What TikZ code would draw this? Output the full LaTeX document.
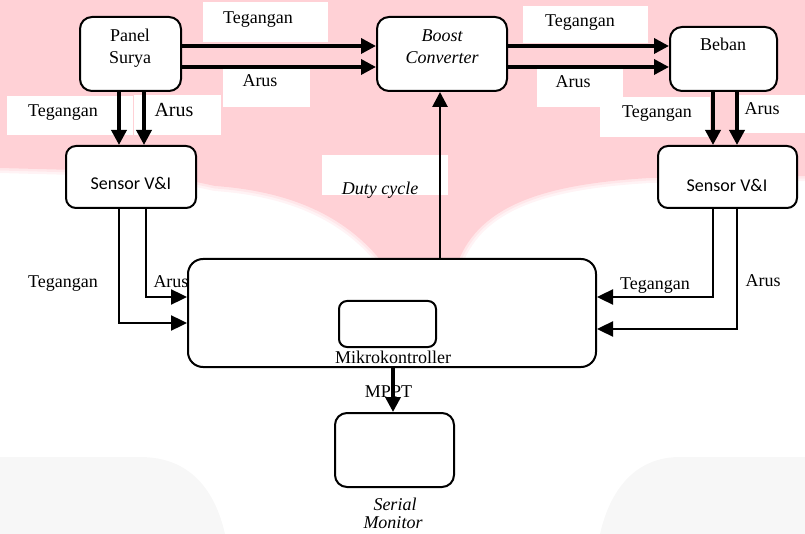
\documentclass[tikz,border=0pt]{standalone}
\usepackage{fontspec}
\setmainfont{Liberation Serif}
\newfontfamily\carl{Carlito}
\usetikzlibrary{arrows.meta,calc}
\definecolor{pinkbg}{RGB}{255,209,214}
\definecolor{graybg}{RGB}{247,247,247}
\begin{document}
\begin{tikzpicture}[x=1pt,y=-1pt,
  blk/.style={draw, line width=2pt, fill=white, inner sep=0pt, rounded corners=#1},
  blk/.default=12pt,
  txt/.style={font=\fontsize{18}{22}\selectfont, inner sep=0pt, anchor=base},
  itxt/.style={txt, font=\fontsize{18}{22}\selectfont\itshape},
  stxt/.style={txt, font=\fontsize{18}{22}\selectfont\carl},
  con/.style={line width=3.5pt, -{Triangle[length=15pt,width=15pt]}},
  thin con/.style={line width=2.4pt, -{Triangle[length=16pt,width=15pt]}},
  lblbox/.style={fill=white}
]
\useasboundingbox (0,0) rectangle (805,534);
% background watermark
\def\wmpath{(0,0) -- (805,0) -- (805,176) -- (650,178)
  .. controls (545,184) and (480,205) .. (458,262) -- (382,262)
  .. controls (350,222) and (300,192) .. (215,186) -- (150,172) -- (0,168) -- cycle}
\fill[pinkbg] \wmpath;
\draw[pinkbg, opacity=0.25, line width=10pt, line join=round] \wmpath;
\draw[pinkbg, opacity=0.35, line width=5pt, line join=round] \wmpath;
\fill[graybg] (0,457) -- (140,457) .. controls (190,457) and (215,490) .. (225,534) -- (0,534) -- cycle;
\fill[graybg] (805,457) -- (680,457) .. controls (635,457) and (610,490) .. (600,534) -- (805,534) -- cycle;
% white label boxes
\fill[lblbox] (203,2) rectangle (328,42);
\fill[lblbox] (223,68) rectangle (310,107);
\fill[lblbox] (7,96) rectangle (133,135);
\fill[lblbox] (134,95) rectangle (221,135);
\fill[lblbox] (523,6) rectangle (648,43);
\fill[lblbox] (537,68) rectangle (623,107);
\fill[lblbox] (600,97) rectangle (710,137);
\fill[lblbox] (738,95) rectangle (805,133);
\fill[lblbox] (322,155) rectangle (448,195);
% blocks
\node[blk, minimum width=101pt, minimum height=74pt] (ps) at (130.5,54) {};
\node[blk, minimum width=130pt, minimum height=74pt] (bc) at (442,54) {};
\node[blk, minimum width=107pt, minimum height=64pt] (bb) at (723.5,59) {};
\node[blk=10pt, minimum width=130pt, minimum height=62pt] (sl) at (131,177) {};
\node[blk=10pt, minimum width=139pt, minimum height=62pt] (sr) at (727.5,177) {};
\node[blk=15pt, minimum width=408pt, minimum height=108pt] (mk) at (392,313) {};
\node[blk=8pt, minimum width=97pt, minimum height=46pt] (mc) at (387.5,324) {};
\node[blk, minimum width=119pt, minimum height=74pt] (sm) at (394.5,450) {};
% block texts
\node[txt] (psA) at (130,42) {Panel};
\node[txt] (psB) at (130,64) {Surya};
\node[itxt] (bcA) at (442,42) {Boost};
\node[itxt] (bcB) at (442,64) {Converter};
\node[txt] (bbA) at (723,51) {Beban};
\node[stxt] (slT) at (131,190) {Sensor V\&I};
\node[stxt] (srT) at (727,192) {Sensor V\&I};
\node[txt] (mkT) at (393,363) {Mikrokontroller};
\node[itxt] (smA) at (395,510) {Serial};
\node[itxt] (smB) at (393,528) {Monitor};
% connectors
\draw[con] ([yshift=8pt]ps.east) -- ([yshift=8pt]ps.east -| bc.west);
\draw[con] ([yshift=-13pt]ps.east) -- ([yshift=-13pt]ps.east -| bc.west);
\draw[con] ([yshift=8pt]bc.east) -- ([yshift=8pt]bc.east -| bb.west);
\draw[con] ([yshift=-13pt]bc.east) -- ([yshift=-13pt]bc.east -| bb.west);
\draw[con] ([xshift=-11.5pt]ps.south) -- ([xshift=-11.5pt]ps.south |- sl.north);
\draw[con] ([xshift=13.5pt]ps.south) -- ([xshift=13.5pt]ps.south |- sl.north);
\draw[con] ([xshift=-10.5pt]bb.south) -- ([xshift=-10.5pt]bb.south |- sr.north);
\draw[con] ([xshift=13.5pt]bb.south) -- ([xshift=13.5pt]bb.south |- sr.north);
\draw[thin con] ([xshift=-12pt]sl.south) |- ([yshift=-10pt]mk.west);
\draw[thin con] ([xshift=15pt]sl.south) |- ([yshift=16pt]mk.west);
\draw[thin con] ([xshift=-14.5pt]sr.south) |- ([yshift=16pt]mk.east);
\draw[thin con] ([xshift=9.5pt]sr.south) |- ([yshift=-16pt]mk.east);
\draw[con, line width=2.8pt] ([xshift=48pt]mk.north) -- ([xshift=48pt]mk.north |- bc.south);
\draw[con] ([xshift=1pt]mk.south) -- ([xshift=1pt]mk.south |- sm.north);
% connector labels
\node[txt] (l1) at (258,24) {Tegangan};
\node[txt] (l2) at (260,87) {Arus};
\node[txt] (l3) at (63,117) {Tegangan};
\node[txt, font=\fontsize{20}{24}\selectfont] (l4) at (174,117) {Arus};
\node[txt] (l5) at (580,27) {Tegangan};
\node[txt] (l6) at (573,88) {Arus};
\node[txt] (l7) at (657,118) {Tegangan};
\node[txt] (l8) at (762,115) {Arus};
\node[itxt] (l9) at (380,195) {Duty cycle};
\node[txt] (l10) at (63,288) {Tegangan};
\node[txt] (l11) at (171,288) {Arus};
\node[txt] (l12) at (655,290) {Tegangan};
\node[txt] (l13) at (763,287) {Arus};
\node[txt] (l14) at (388.5,397) {MPPT};
\end{tikzpicture}
\end{document}
